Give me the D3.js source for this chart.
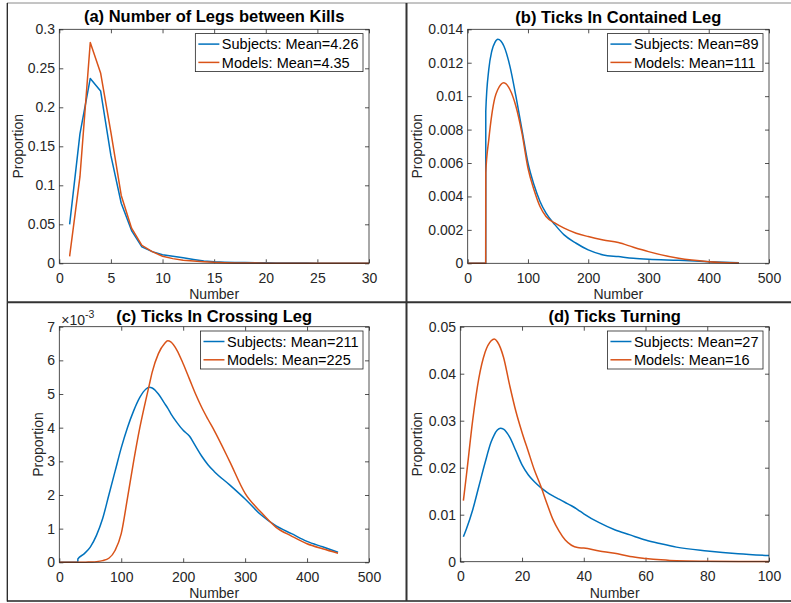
<!DOCTYPE html>
<html lang="en">
<head>
<meta charset="UTF-8">
<title>Legs and Ticks distributions</title>
<script src="https://d3js.org/d3.v7.min.js"></script>
<style>
  body { margin: 0; background: #fff; }
  svg { display: block; font-family: "Liberation Sans", Arial, Helvetica, sans-serif; }
</style>
</head>
<body>
<svg></svg>
<script>
const seriesNames = ["Subjects", "Models"];
const seriesColors = ["#0072BD", "#D95319"];

// (a) Number of Legs between Kills
const aX = [1,2,3,4,5,6,7,8,9,10,11,12,13,14,15,16,17,18,19,20,21,22,23,24,25,26,27,28,29,30];
const aSubjects = [0.050,0.166,0.237,0.221,0.138,0.077,0.042,0.021,0.015,0.011,0.009,0.007,0.005,0.003,0.002,0.0015,0.001,0.001,0.0008,0.0006,0.0005,0.0004,0.0003,0.0003,0.0002,0.0002,0.0001,0.0001,0.0001,0.0001];
const aModels = [0.009,0.111,0.283,0.244,0.168,0.087,0.045,0.023,0.015,0.009,0.006,0.004,0.003,0.002,0.0012,0.0008,0.0005,0.0004,0.0003,0.0002,0.0002,0.0001,0.0001,0.0001,0.0001,0.0001,0.0001,0,0,0];
const aMeans = ["4.26", "4.35"];
const aXTicks = [0,5,10,15,20,25,30];
const aYTicks = [0,0.05,0.1,0.15,0.2,0.25,0.3];

// (b) Ticks In Contained Leg
const bX = [0,29.9,30,35,40,45,50,55,60,70,80,90,100,110,120,130,145,160,180,200,225,250,275,300,350,400,450];
const bSubjects = [0,0,0.0091,0.0116,0.0127,0.0132,0.0134,0.0133,0.0130,0.0118,0.0100,0.0080,0.0060,0.0047,0.0037,0.0030,0.0023,0.0017,0.0012,0.0008,0.0005,0.0004,0.0003,0.00024,0.00018,0.0001,0.00003];
const bModels = [0,0,0.0054,0.0074,0.0089,0.0099,0.0104,0.0107,0.0108,0.0104,0.0094,0.0078,0.0057,0.0044,0.0034,0.0028,0.0024,0.0021,0.0018,0.0016,0.0014,0.00124,0.00096,0.0007,0.0003,0.0001,0.00002];
const bMeans = ["89", "111"];
const bXTicks = [0,100,200,300,400,500];
const bYTicks = [0,0.002,0.004,0.006,0.008,0.01,0.012,0.014];

// (c) Ticks In Crossing Leg (values in units of 1e-3)
const cX = [0,29.9,30,40,50,60,70,80,90,100,110,120,130,140,145,150,160,170,175,180,190,200,210,220,230,240,250,275,300,325,350,375,400,425,450];
const cSubjects = [0,0,0.10,0.25,0.45,0.80,1.30,2.00,2.70,3.40,4.00,4.50,4.90,5.15,5.20,5.18,5.00,4.72,4.58,4.42,4.15,3.92,3.75,3.45,3.15,2.90,2.70,2.30,1.88,1.42,1.08,0.85,0.62,0.46,0.30];
const cModels = [0,0,0,0,0.01,0.02,0.05,0.12,0.35,0.85,1.90,3.00,4.00,4.85,5.25,5.65,6.20,6.50,6.58,6.55,6.30,5.90,5.45,5.00,4.60,4.25,3.92,3.00,2.05,1.50,1.04,0.78,0.55,0.40,0.27];
const cMeans = ["211", "225"];
const cXTicks = [0,100,200,300,400,500];
const cYTicks = [0,1,2,3,4,5,6,7];

// (d) Ticks Turning
const dX = [1,2,4,6,8,10,11,12,13,14,16,18,20,22,24,26,28,30,32,34,36,38,40,45,50,55,60,65,70,80,90,100];
const dSubjects = [0.0053,0.0070,0.0110,0.0160,0.0210,0.0255,0.0270,0.0280,0.0284,0.0282,0.0265,0.0236,0.0206,0.0185,0.0170,0.0158,0.0148,0.0140,0.0133,0.0126,0.0119,0.0111,0.0102,0.0083,0.0068,0.0057,0.0046,0.0038,0.0031,0.0023,0.0017,0.0013];
const dModels = [0.0130,0.0185,0.0300,0.0390,0.0445,0.0470,0.0474,0.0468,0.0455,0.0435,0.0375,0.0320,0.0275,0.0235,0.0195,0.0162,0.0125,0.0090,0.0065,0.0046,0.0035,0.0030,0.0029,0.0023,0.0018,0.0011,0.0007,0.0004,0.0002,0.0001,0.00005,0.00003];
const dMeans = ["27", "16"];
const dXTicks = [0,20,40,60,80,100];
const dYTicks = [0,0.01,0.02,0.03,0.04,0.05];

const width = 791, height = 603;
const textColor = "#262626";

const svg = d3.select("svg")
    .attr("width", width)
    .attr("height", height);

const panels = [
    { title: "(a) Number of Legs between Kills", x: aX, ys: [aSubjects, aModels], means: aMeans,
      xTicks: aXTicks, yTicks: aYTicks, curve: d3.curveLinear,
      left: 59.3, top: 29.3, right: 369, bottom: 263.3, titleY: 22, ylabX: 22.7 },
    { title: "(b) Ticks In Contained Leg", x: bX, ys: [bSubjects, bModels], means: bMeans,
      xTicks: bXTicks, yTicks: bYTicks, curve: d3.curveMonotoneX,
      left: 467.7, top: 29.3, right: 769, bottom: 263.3, titleY: 22.5, ylabX: 422.3 },
    { title: "(c) Ticks In Crossing Leg", x: cX, ys: [cSubjects, cModels], means: cMeans,
      xTicks: cXTicks, yTicks: cYTicks, curve: d3.curveMonotoneX, exponent: "-3",
      left: 59.3, top: 326.7, right: 369, bottom: 562.3, titleY: 322, ylabX: 42.5 },
    { title: "(d) Ticks Turning", x: dX, ys: [dSubjects, dModels], means: dMeans,
      xTicks: dXTicks, yTicks: dYTicks, curve: d3.curveMonotoneX,
      left: 460.3, top: 326.7, right: 769, bottom: 561.7, titleY: 321.5, ylabX: 422.3 }
];

const fmt = d3.format("~g");

panels.forEach(p => {
    const x = d3.scaleLinear()
        .domain(d3.extent(p.xTicks))
        .range([p.left, p.right]);
    const y = d3.scaleLinear()
        .domain(d3.extent(p.yTicks))
        .range([p.bottom, p.top]);

    const g = svg.append("g");

    // ticks on all four sides, pointing inward
    const axes = [
        [d3.axisBottom(x).tickValues(p.xTicks).tickSize(-4).tickPadding(9.5).tickFormat(fmt), 0, p.bottom],
        [d3.axisTop(x).tickValues(p.xTicks).tickSize(-4).tickFormat(""), 0, p.top],
        [d3.axisLeft(y).tickValues(p.yTicks).tickSize(-4).tickPadding(4.3).tickFormat(fmt), p.left, 0],
        [d3.axisRight(y).tickValues(p.yTicks).tickSize(-4).tickFormat(""), p.right, 0]
    ];
    axes.forEach(([ax, tx, ty]) => {
        const a = g.append("g")
            .attr("transform", `translate(${tx},${ty})`)
            .call(ax);
        a.select(".domain").remove();
        a.selectAll("line").attr("stroke", textColor).attr("stroke-width", 0.8);
        a.selectAll("text")
            .attr("fill", textColor)
            .style("font-size", "14px")
            .style("font-family", "'Liberation Sans', Arial, sans-serif");
    });

    // lines
    const line = d3.line()
        .x((d, i) => x(p.x[i]))
        .y(d => y(d))
        .curve(p.curve);
    p.ys.forEach((vals, k) => {
        g.append("path")
            .datum(vals)
            .attr("d", line)
            .attr("fill", "none")
            .attr("stroke", seriesColors[k])
            .attr("stroke-width", 1.5)
            .attr("stroke-linejoin", "round");
    });

    // box
    g.append("rect")
        .attr("x", p.left).attr("y", p.top)
        .attr("width", p.right - p.left)
        .attr("height", p.bottom - p.top)
        .attr("fill", "none")
        .attr("stroke", textColor)
        .attr("stroke-width", 0.8);

    // title
    g.append("text")
        .attr("x", (p.left + p.right) / 2)
        .attr("y", p.titleY)
        .attr("text-anchor", "middle")
        .attr("font-weight", "bold")
        .attr("font-size", 16.5)
        .attr("fill", "#000")
        .text(p.title);

    // axis labels
    g.append("text")
        .attr("x", (p.left + p.right) / 2)
        .attr("y", p.bottom + 36)
        .attr("text-anchor", "middle")
        .attr("font-size", 14)
        .attr("fill", textColor)
        .text("Number");
    g.append("text")
        .attr("transform", `translate(${p.ylabX},${(p.top + p.bottom) / 2}) rotate(-90)`)
        .attr("text-anchor", "middle")
        .attr("font-size", 14)
        .attr("fill", textColor)
        .text("Proportion");

    if (p.exponent) {
        const ex = g.append("text")
            .attr("x", p.left + 2)
            .attr("y", p.top - 2)
            .attr("font-size", 14)
            .attr("fill", textColor);
        ex.append("tspan").text("\u00d710");
        ex.append("tspan").attr("dy", -7).attr("font-size", 10.5).text(p.exponent);
    }

    // legend
    const leg = g.append("g");
    const rows = seriesNames.map((n, k) => `${n}: Mean=${p.means[k]}`);
    const texts = rows.map((t, k) => leg.append("text")
        .attr("font-size", 14.5)
        .attr("fill", "#000")
        .text(t));
    const textW = d3.max(texts, t => t.node().getComputedTextLength());
    const boxW = textW + 31, boxH = 38;
    const bx = p.right - 6 - boxW, by = p.top + 4.3;
    leg.insert("rect", "text")
        .attr("x", bx).attr("y", by)
        .attr("width", boxW).attr("height", boxH)
        .attr("fill", "#fff")
        .attr("stroke", textColor)
        .attr("stroke-width", 0.8);
    rows.forEach((t, k) => {
        const cy = by + 10.5 + k * 18.3;
        leg.append("line")
            .attr("x1", bx + 3).attr("x2", bx + 24)
            .attr("y1", cy).attr("y2", cy)
            .attr("stroke", seriesColors[k])
            .attr("stroke-width", 1.5);
        texts[k].attr("x", bx + 26.5).attr("y", cy + 5.2);
    });
});

// figure frame and separators
const frame = svg.append("g").attr("fill", "none");
frame.append("line").attr("x1", 7).attr("x2", 791).attr("y1", 3).attr("y2", 3)
    .attr("stroke", "#8a8a8a").attr("stroke-width", 1);
frame.append("line").attr("x1", 7.3).attr("x2", 7.3).attr("y1", 3).attr("y2", 601.5)
    .attr("stroke", "#222").attr("stroke-width", 1.3);
frame.append("line").attr("x1", 7).attr("x2", 791).attr("y1", 601).attr("y2", 601)
    .attr("stroke", "#222").attr("stroke-width", 1.3);
frame.append("line").attr("x1", 7).attr("x2", 791).attr("y1", 302.2).attr("y2", 302.2)
    .attr("stroke", "#333").attr("stroke-width", 2);
frame.append("line").attr("x1", 406.5).attr("x2", 406.5).attr("y1", 3).attr("y2", 601)
    .attr("stroke", "#333").attr("stroke-width", 2);
</script>
</body>
</html>
